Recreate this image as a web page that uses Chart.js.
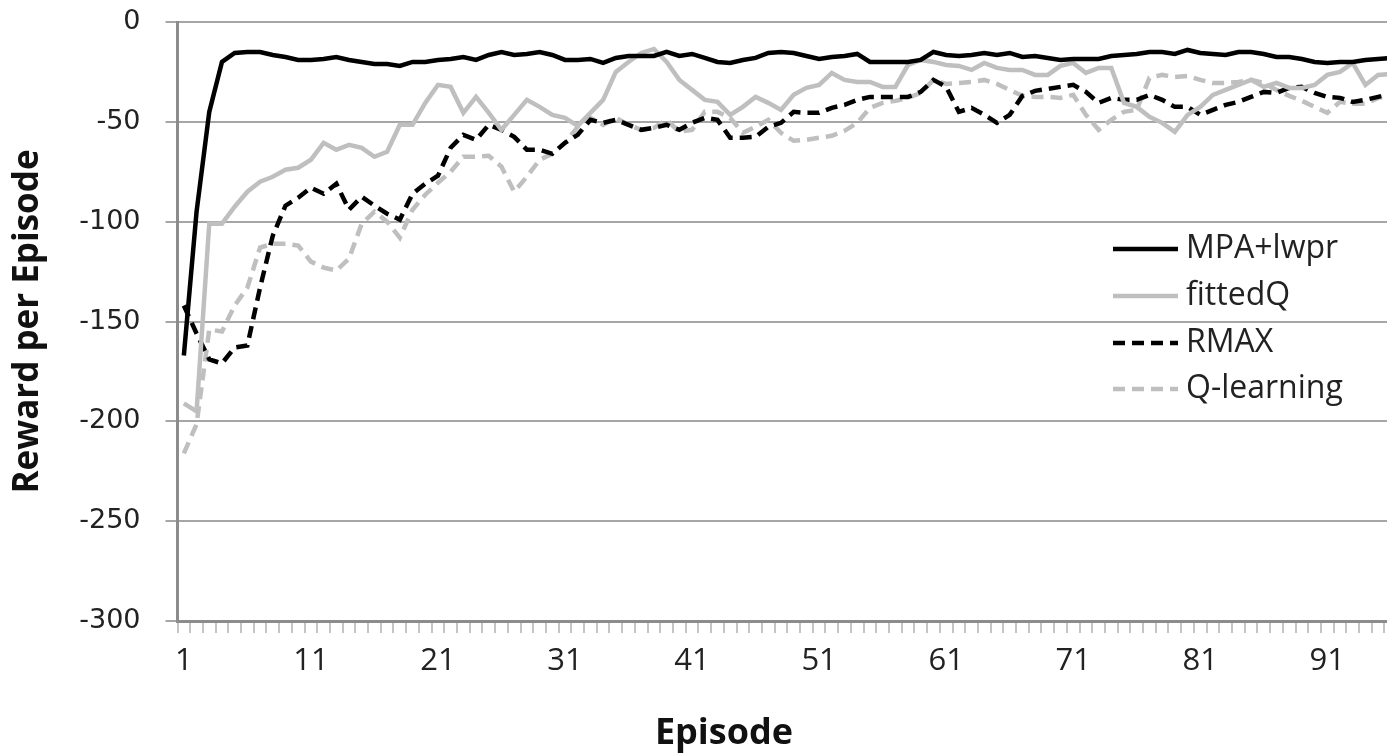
<!DOCTYPE html>
<html><head><meta charset="utf-8">
<script src="https://cdn.jsdelivr.net/npm/chart.js@4.4.1/dist/chart.umd.min.js"></script>
<style>
html,body{margin:0;padding:0;background:#fff;overflow:hidden;}
#wrap{width:1387px;height:754px;overflow:hidden;position:relative;background:#fff;}
canvas{display:block;}
</style></head><body>
<div id="wrap"><canvas id="c" width="1448" height="754" style="width:1448px;height:754px"></canvas></div>
<script>
// Categories: episodes 1..100 (the picture is cut off after ~96)
const episodes = [];
for (let i = 1; i <= 100; i++) episodes.push(String(i));
const xTickLabels = ['1','11','21','31','41','51','61','71','81','91'];
const yTicks = [0,-50,-100,-150,-200,-250,-300];

const mpaLwpr = [-167,-95,-45,-20,-15.5,-15,-15,-16.5,-17.5,-19,
  -19,-18.5,-17.5,-19,-20,-21,-21,-22,-20,-20,
  -19,-18.5,-17.5,-19,-16.5,-15,-16.5,-16,-15,-16.5,
  -19,-19,-18.5,-20.5,-18,-17,-17,-17,-15,-17,
  -16,-18,-20,-20.5,-19,-18,-15.5,-15,-15.5,-17,
  -18.5,-17.5,-17,-16,-20,-20,-20,-20,-19,-15,
  -16.5,-17,-16.5,-15.5,-16.5,-15.5,-17.5,-17,-18,-19,
  -18.5,-18.5,-18.5,-17,-16.5,-16,-15,-15,-16,-14,
  -15.5,-16,-16.5,-15,-15,-16,-17.5,-17.5,-18.5,-20,
  -20.5,-20,-20,-19,-18.5,-18];

const fittedQ = [-191,-195,-101,-101,-92.5,-85,-80,-77.5,-74,-73,
  -69,-60.5,-64,-61.5,-63,-67.5,-65,-51.5,-51.5,-40.5,
  -31.5,-32.5,-45.5,-37.5,-45.5,-54,-46.5,-39,-42.5,-46.5,
  -48,-52,-45.5,-39,-25,-20,-15.5,-13.5,-20,-29,
  -34,-39,-40,-46.5,-42.5,-37.5,-40.5,-44,-36.5,-33,
  -31.5,-25.5,-29,-30,-30,-32.5,-32.5,-21.5,-19,-20,
  -21.5,-22,-24,-20.5,-23,-24,-24,-26.5,-26.5,-22,
  -20.5,-25.5,-23,-23,-40.5,-42.5,-47.5,-50.5,-55,-46.5,
  -42.5,-36.5,-34,-31.5,-29,-32.5,-30.5,-33,-33,-31.5,
  -26.5,-25,-20.5,-31.5,-26.5,-26];

const rmax = [-142,-156,-169,-171,-163,-162,-133,-107,-92,-88,
  -83,-86,-81,-94,-87.5,-92,-96,-99,-86,-81,
  -77,-63,-56.5,-59,-51.5,-54,-57.5,-64,-64,-66,
  -60.5,-56.5,-49,-50.5,-49,-51.5,-54,-53,-51.5,-54,
  -50.5,-48,-49,-58,-58,-57.5,-52.5,-50.5,-45,-45.5,
  -45.5,-43,-41.5,-39,-37.5,-37.5,-37.5,-37.5,-35,-29,
  -32.5,-45,-43,-46.5,-50.5,-46.5,-37,-34.5,-33.5,-32.5,
  -31.5,-35,-40.5,-38,-39,-39,-36.5,-39,-42.5,-42.5,
  -46.5,-44,-41.5,-40,-37.5,-35,-35.5,-33,-32.5,-35.5,
  -37.5,-38,-40,-39,-37.5,-36];

const qLearning = [-216,-201.5,-154,-155,-142,-133,-113,-111,-111,-112,
  -120,-123,-124.5,-118.5,-101,-95,-100,-108,-94,-86.5,
  -80.5,-75,-67.5,-67.5,-67,-72.5,-85,-77.5,-69,-66,
  -60.5,-52.5,-48,-51.5,-48,-51.5,-54,-53,-49,-55,
  -54,-45,-45,-48,-55.5,-52.5,-49,-55.5,-59.5,-59,
  -58,-57,-54.5,-50.5,-43,-40.5,-39.5,-38,-35.5,-29,
  -31,-30.5,-30,-29,-31,-34,-37,-37.5,-37.5,-38,
  -36.5,-46.5,-54,-49,-45,-44,-28,-26.5,-27.5,-27,
  -29,-30.5,-30.5,-30,-29,-30.5,-34,-37,-39.5,-42.5,
  -45.5,-40,-41,-41,-38,-37];

const BLACK = '#000000';
const GRAY = '#bfbfbf';
const DASH = [12, 7];

const insideLegend = {
  id: 'insideLegend',
  afterDraw(chart) {
    const ctx = chart.ctx;
    ctx.save();
    const rows = [249, 296, 343, 389];
    chart.data.datasets.forEach((ds, i) => {
      const y = rows[i];
      ctx.beginPath();
      ctx.strokeStyle = ds.borderColor;
      ctx.lineWidth = ds.borderWidth;
      ctx.lineCap = 'butt';
      ctx.setLineDash(ds.borderDash || []);
      ctx.moveTo(1113, y);
      ctx.lineTo(1178, y);
      ctx.stroke();
      ctx.setLineDash([]);
      ctx.fillStyle = '#222';
      ctx.font = '32px "Open Sans"';
      ctx.textAlign = 'left';
      ctx.textBaseline = 'middle';
      ctx.fillText(ds.label, 1186, y);
    });
    ctx.fillStyle = '#111';
    ctx.font = 'bold 36px "Open Sans"';
    ctx.textAlign = 'center';
    ctx.textBaseline = 'middle';
    ctx.fillText('Episode', 724, 734);
    ctx.restore();
  }
};

new Chart(document.getElementById('c'), {
  type: 'line',
  data: {
    labels: episodes,
    datasets: [
      { label: 'MPA+lwpr', data: mpaLwpr, borderColor: BLACK, borderWidth: 4.5 },
      { label: 'fittedQ', data: fittedQ, borderColor: GRAY, borderWidth: 4.5 },
      { label: 'RMAX', data: rmax, borderColor: BLACK, borderWidth: 4.5, borderDash: DASH },
      { label: 'Q-learning', data: qLearning, borderColor: GRAY, borderWidth: 4.5, borderDash: DASH }
    ]
  },
  options: {
    responsive: false,
    animation: false,
    devicePixelRatio: 1,
    layout: { padding: { left: 0, right: 0, top: 22, bottom: 0 } },
    elements: { point: { radius: 0, hoverRadius: 0 }, line: { tension: 0, fill: false } },
    plugins: { legend: { display: false }, tooltip: { enabled: false } },
    scales: {
      x: {
        type: 'category',
        offset: true,
        afterFit(s) { s.height = 133; s.paddingLeft = 0; s.paddingRight = 0; },
        grid: { display: true, drawOnChartArea: false, drawTicks: true, tickLength: 12, color: '#c4c4c4', lineWidth: 2, offset: true },
        border: { display: true, color: '#8c8c8c', width: 3 },
        ticks: {
          autoSkip: false, maxRotation: 0, minRotation: 0, padding: 10,
          color: '#222', font: { family: '"Open Sans"', size: 31 },
          callback(v, i) { const l = episodes[i]; return xTickLabels.includes(l) ? l : ''; }
        }
      },
      y: {
        min: -300, max: 0,
        afterFit(s) { s.width = 177.5; s.paddingTop = 0; s.paddingBottom = 0; },
        grid: { color: '#a6a6a6', lineWidth: 2, tickLength: 12, drawTicks: true },
        border: { display: true, color: '#8c8c8c', width: 3 },
        afterBuildTicks(s) { s.ticks = yTicks.map(v => ({ value: v })); },
        ticks: { padding: 25, color: '#222', font: { family: '"DejaVu Sans"', size: 27 } },
        title: { display: true, text: 'Reward per Episode', color: '#111', padding: { top: 7, bottom: 0 },
                 font: { family: '"Open Sans"', size: 35, weight: 'bold' } }
      }
    }
  },
  plugins: [insideLegend]
});
</script>
</body></html>
